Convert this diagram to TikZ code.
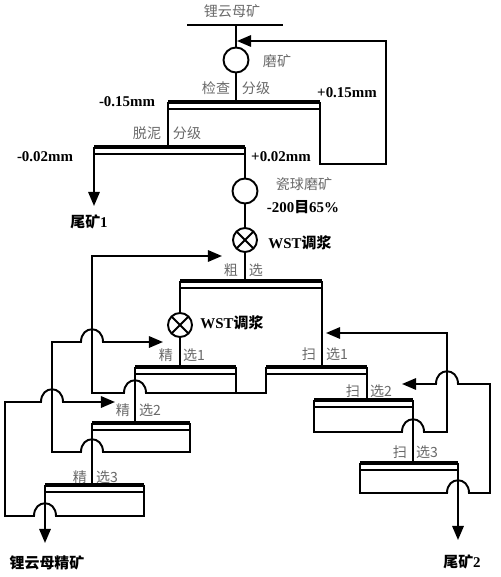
\documentclass[tikz,border=0pt]{standalone}
\usepackage{fontspec}
\setmainfont{Liberation Serif}
\newfontfamily\cjk{Noto Sans CJK SC}
\usetikzlibrary{arrows.meta,calc}

\definecolor{r105g105b105}{rgb}{0.41,0.41,0.41}

\tikzset{
  flowline/.style={line width=1.1pt},
  screenline/.style={line width=2.4pt},
  sieveline/.style={line width=0.8pt},
  feedarrow/.style={flowline,-{Triangle[length=8pt,width=6.5pt]}},
  mill/.style={circle,draw,flowline,minimum size=0.5cm,inner sep=0pt},
  mixer/.style={mill,minimum size=0.48cm,path picture={
      \draw[flowline] (path picture bounding box.north west) -- (path picture bounding box.south east)
                      (path picture bounding box.north east) -- (path picture bounding box.south west);}},
  stagelabel/.style={inner sep=0pt,text=r105g105b105,font=\cjk\fontsize{8}{9.6}\selectfont},
  sizelabel/.style={inner sep=0pt,font=\bfseries\fontsize{8.5}{10}\selectfont}
}

\begin{document}
\begin{tikzpicture}[x=0.02cm,y=-0.02cm]
  \useasboundingbox (0,0) rectangle (500,577);

  % Drawing screens: name/left/right/height
  \foreach \name/\xl/\xr/\yy in {chk/168/320/102,mud/94/245/147,rgh/180/322/281,
      cleanA/135/236/367,cleanB/92/190/423,cleanC/45/144/485,
      scavA/266/367/367,scavB/314/413/400,scavC/360/458/463}{
    \coordinate (\name L) at (\xl,\yy);
    \coordinate (\name R) at (\xr,\yy);
    \draw[sieveline] ($(\name L)+(0,7)$) -- ($(\name R)+(0,7)$);
    \draw[screenline] (\name L) -- (\name R);
  }
  \coordinate (chkM) at (236,102);
  \coordinate (rghM) at (245,281);
  \coordinate (cleanAM) at (180,367);
  \coordinate (cleanBM) at (135,423);
  \coordinate (cleanCM) at (92,485);
  \coordinate (scavAM) at (322,367);
  \coordinate (scavBM) at (367,400);
  \coordinate (scavCM) at (413,463);

  % Feed and grinding
  \coordinate (feedL) at (187,25);
  \coordinate (feedR) at (283,25);
  \coordinate (feedM) at (236,25);
  \draw[flowline] (feedL) -- (feedR);
  \node[stagelabel] (oreLbl) at (232,11) {锂云母矿};
  \node[mill] (grind) at (236,60) {};
  \node[stagelabel] (grindLbl) at (277,61) {磨矿};
  \draw[flowline] (feedM) -- (grind);
  \draw[flowline] (grind) -- (chkM);

  % Recycle of +0.15mm to the mill
  \coordinate (recB) at (386,164);
  \coordinate (recIn) at (237,41);
  \draw[feedarrow] (chkR) |- (recB) |- (recIn);
  \node[stagelabel] (chkLblA) at (216,88) {检查};
  \node[stagelabel] (chkLblB) at (256,88) {分级};
  \node[sizelabel] (minusA) at (127,102) {-0.15mm};
  \node[sizelabel] (plusA) at (347,93) {+0.15mm};

  % Desliming
  \draw[flowline] (chkL) -- (chkL |- mudL);
  \node[stagelabel] (mudLblA) at (147,133) {脱泥};
  \node[stagelabel] (mudLblB) at (187,133) {分级};
  \node[sizelabel] (minusB) at (45,157) {-0.02mm};
  \node[sizelabel] (plusB) at (281,157) {+0.02mm};
  \coordinate (tailA) at (94,206);
  \draw[feedarrow] (mudL) -- (tailA);
  \node[sizelabel] (tailALbl) at (89,222) {{\cjk 尾矿}1};

  % Ball mill and conditioning
  \node[mill] (ballmill) at (245,191) {};
  \node[stagelabel] (ballLbl) at (304,184) {瓷球磨矿};
  \node[sizelabel] (meshLbl) at (303,207) {-200{\cjk 目}65\%};
  \node[mixer] (wstA) at (245,240) {};
  \node[sizelabel] (wstALbl) at (300,243) {WST{\cjk 调浆}};
  \draw[flowline] (mudR) -- (ballmill);
  \draw[flowline] (ballmill) -- (wstA);
  \draw[flowline] (wstA) -- (rghM);

  % Roughing
  \node[stagelabel] (rghLblA) at (231,270) {粗};
  \node[stagelabel] (rghLblB) at (256,270) {选};
  \node[mixer] (wstB) at (180,325) {};
  \node[sizelabel] (wstBLbl) at (232,323) {WST{\cjk 调浆}};
  \draw[flowline] (rghL) -- (wstB);
  \draw[flowline] (wstB) -- (cleanAM);
  \draw[flowline] (rghR) -- (scavAM);

  % Middlings back to roughing
  \coordinate (midIn) at (222,256);
  \coordinate (cleanAB) at (236,393);
  \draw[feedarrow] (scavAL) -- (266,393) -- (146,393) .. controls (146,376) and (124,376) .. (124,393) -- (92,393) |- (midIn);
  \draw[flowline] (cleanAR) -- (cleanAB);

  % Cleaning
  \node[stagelabel] (cleanALblA) at (166,355) {精};
  \node[stagelabel] (cleanALblB) at (194,355) {选1};
  \node[stagelabel] (cleanBLblA) at (123,410) {精};
  \node[stagelabel] (cleanBLblB) at (150,410) {选2};
  \node[stagelabel] (cleanCLblA) at (80,477) {精};
  \node[stagelabel] (cleanCLblB) at (107,477) {选3};
  \draw[flowline] (cleanAL) -- (cleanBM);
  \draw[flowline] (cleanBL) -- (cleanCM);
  \coordinate (cleanAIn) at (163,342);
  \draw[feedarrow] (cleanBR) -- (190,452) -- (103,452) .. controls (103,435) and (81,435) .. (81,452) -- (52,452) -- (52,342) -- (81,342) .. controls (81,325) and (103,325) .. (103,342) -- (cleanAIn);
  \coordinate (cleanBIn) at (115,402);
  \draw[feedarrow] (cleanCR) -- (144,516) -- (56,516) .. controls (56,499) and (34,499) .. (34,516) -- (5,516) -- (5,402) -- (41,402) .. controls (41,385) and (63,385) .. (63,402) -- (cleanBIn);
  \coordinate (conc) at (45,543);
  \draw[feedarrow] (cleanCL) -- (conc);
  \node[sizelabel] (concLbl) at (47,563) {\cjk 锂云母精矿};

  % Scavenging
  \node[stagelabel] (scavALblA) at (309,354) {扫};
  \node[stagelabel] (scavALblB) at (337,354) {选1};
  \node[stagelabel] (scavBLblA) at (353,391) {扫};
  \node[stagelabel] (scavBLblB) at (381,391) {选2};
  \node[stagelabel] (scavCLblA) at (400,452) {扫};
  \node[stagelabel] (scavCLblB) at (427,452) {选3};
  \draw[flowline] (scavAR) -- (scavBM);
  \draw[flowline] (scavBR) -- (scavCM);
  \coordinate (scavAIn) at (326,333);
  \draw[feedarrow] (scavBL) -- (314,432) -- (402,432) .. controls (402,415) and (424,415) .. (424,432) -- (447,432) -- (447,333) -- (scavAIn);
  \coordinate (scavBIn) at (402,384);
  \draw[feedarrow] (scavCL) -- (360,493) -- (447,493) .. controls (447,476) and (469,476) .. (469,493) -- (490,493) -- (490,384) -- (458,384) .. controls (458,367) and (436,367) .. (436,384) -- (scavBIn);
  \coordinate (tailB) at (458,540);
  \draw[feedarrow] (scavCR) -- (tailB);
  \node[sizelabel] (tailBLbl) at (462,562) {{\cjk 尾矿}2};
\end{tikzpicture}
\end{document}
